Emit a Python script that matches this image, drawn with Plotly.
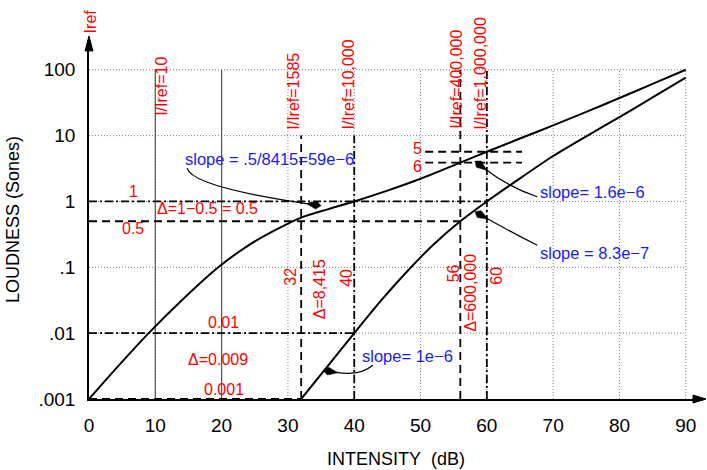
import math
import plotly.graph_objects as go

# ---------------- data ----------------
upper_x = [0, 4.5, 9, 14, 19.5, 24, 28, 32, 36, 40, 45, 50, 56, 60, 65, 70, 75, 80, 85, 90]
upper_L = [0.001, 0.00324, 0.01, 0.0316, 0.1, 0.214, 0.363, 0.569, 0.759, 1.0, 1.46, 2.21, 3.89, 5.69,
           9.02, 14.3, 22.9, 37.2, 61, 100]

lower_x = [32, 36, 40, 44, 48, 52, 56, 60, 65, 70, 75, 80, 85, 90]
lower_L = [0.001, 0.00316, 0.01, 0.0309, 0.0871, 0.224, 0.501, 1.0, 2.24, 4.9, 9.77, 19.1, 38, 75.9]

# horizontal reference levels (sones) and their x extents (dB)
href_L = [1, 0.5, 0.01, 0.001, 5.69, 3.89]
href_x0 = [0, 0, 0, 0, 50.7, 50.7]
href_x1 = [60, 56, 40, 32, 65.3, 65.3]
href_style = ["dashdot", "dash", "dashdot", "dash", "dash", "dash"]

# vertical reference intensities (dB) and top level (sones)
vref_x = [32, 40, 56, 60]
vref_top = [10, 10, 100, 100]
vref_style = ["dash", "dashdot", "dash", "dashdot"]

solid_x = [10, 20]
grid_x = [10, 20, 30, 40, 50, 60, 70, 80, 90]
grid_L = [0.01, 0.1, 1, 10, 100]

xtick_vals = [0, 10, 20, 30, 40, 50, 60, 70, 80, 90]
ytick_vals = [0.001, 0.01, 0.1, 1, 10, 100]
ytick_text = [".001", ".01", ".1", "1", "10", "100"]

# ---------------- geometry helpers ----------------
L_M, R_M, T_M, B_M = 89, 4, 40, 68
W, H = 707, 470
PW, PH = W - L_M - R_M, H - T_M - B_M
XMAX = 92.6
YMIN = -3.0
YMAX = YMIN + PH / 66.4

def to_px(x, L):
    return (L_M + x / XMAX * PW, T_M + PH - (math.log10(L) - YMIN) / (YMAX - YMIN) * PH)

def px_paper(px, py):
    return ((px - L_M) / PW, (T_M + PH - py) / PH)

FONT = "Liberation Sans, Arial, Helvetica, sans-serif"
DASH = "8px,5px"
DASHDOT = "8px,3px,2px,3px"
DOT = "1px,2px"

fig = go.Figure()

# grid (dotted)
gx, gy = [], []
for L in grid_L:
    gx += [0, 90, None]; gy += [L, L, None]
for x in grid_x:
    gx += [x, x, None]; gy += [0.001, 100, None]
fig.add_trace(go.Scatter(x=gx, y=gy, mode="lines", line=dict(color="#808080", width=1, dash=DOT),
                         hoverinfo="skip"))

# solid vertical lines at 10 and 20 dB
sx, sy = [], []
for x in solid_x:
    sx += [x, x, None]; sy += [0.001, 100, None]
fig.add_trace(go.Scatter(x=sx, y=sy, mode="lines", line=dict(color="#555555", width=1.2),
                         hoverinfo="skip"))

# reference dashed lines
for style, pattern in (("dash", DASH), ("dashdot", DASHDOT)):
    rx, ry = [], []
    for L, x0, x1, s in zip(href_L, href_x0, href_x1, href_style):
        if s == style:
            rx += [x0, x1, None]; ry += [L, L, None]
    for x, top, s in zip(vref_x, vref_top, vref_style):
        if s == style:
            rx += [x, x, None]; ry += [0.001, top, None]
    fig.add_trace(go.Scatter(x=rx, y=ry, mode="lines", line=dict(color="black", width=1.8, dash=pattern),
                             hoverinfo="skip"))

# loudness curves
fig.add_trace(go.Scatter(x=upper_x, y=upper_L, mode="lines",
                         line=dict(color="black", width=2, shape="spline", smoothing=0.8)))
fig.add_trace(go.Scatter(x=lower_x, y=lower_L, mode="lines",
                         line=dict(color="black", width=2, shape="spline", smoothing=0.8)))

shapes = []
def poly_paper(pts):
    s = ""
    for i, (px, py) in enumerate(pts):
        a, b = px_paper(px, py)
        s += ("M" if i == 0 else "L") + f"{a:.5f},{b:.5f} "
    return s + "Z"

# axis arrowheads
ytop_x, ytop_y = L_M, T_M - 4
shapes.append(dict(type="path", xref="paper", yref="paper",
                   path=poly_paper([(ytop_x, ytop_y), (ytop_x - 4, ytop_y + 15), (ytop_x + 4, ytop_y + 15)]),
                   fillcolor="black", line=dict(color="black", width=1)))
xr_x, xr_y = W - 1, T_M + PH
shapes.append(dict(type="path", xref="paper", yref="paper",
                   path=poly_paper([(xr_x, xr_y), (xr_x - 13, xr_y - 4), (xr_x - 13, xr_y + 4)]),
                   fillcolor="black", line=dict(color="black", width=1)))

# curved pointer arrows: start, control, tip (in dB / sones)
arrows = [
    ((14.8, 3.2), (15.5, 1.67), (35.0, 0.86)),
    ((67.6, 1.18), (63.2, 1.67), (58.2, 4.1)),
    ((67.6, 0.216), (63.2, 0.363), (58.2, 0.70)),
    ((42.8, 0.00325), (40.9, 0.00222), (35.3, 0.00273)),
]
for S, C, E in arrows:
    sp = to_px(*S); cp = to_px(*C); ep = to_px(*E)
    dx, dy = ep[0] - cp[0], ep[1] - cp[1]
    n = math.hypot(dx, dy); dx, dy = dx / n, dy / n
    nx, ny = -dy, dx
    back = (ep[0] - 13 * dx, ep[1] - 13 * dy)
    a1, b1 = px_paper(*sp); a2, b2 = px_paper(*cp); a3, b3 = px_paper(*back)
    shapes.append(dict(type="path", xref="paper", yref="paper",
                       path=f"M{a1:.5f},{b1:.5f} Q{a2:.5f},{b2:.5f} {a3:.5f},{b3:.5f}",
                       line=dict(color="black", width=1.2)))
    w1 = (ep[0] - 5 * dx + 4 * nx, ep[1] - 5 * dy + 4 * ny)
    w2 = (ep[0] - 5 * dx - 4 * nx, ep[1] - 5 * dy - 4 * ny)
    bk = (ep[0] - 15 * dx, ep[1] - 15 * dy)
    shapes.append(dict(type="path", xref="paper", yref="paper",
                       path=poly_paper([ep, w1, bk, w2]),
                       fillcolor="black", line=dict(color="black", width=0.5)))

annotations = []
def ann(x, L, text, color="red", size=16, angle=0, xanchor="center", yanchor="middle"):
    annotations.append(dict(x=x, y=math.log10(L), xref="x", yref="y", text=text, showarrow=False,
                            textangle=angle, xanchor=xanchor, yanchor=yanchor,
                            font=dict(family=FONT, size=size, color=color)))

RED = "#ff0000"
BLUE = "#1a1aff"
# red value labels
ann(6.7, 1.41, "1", RED)
ann(17.8, 0.78, "Δ=1−0.5 = 0.5", RED)
ann(6.7, 0.39, "0.5", RED)
ann(20.3, 0.0145, "0.01", RED)
ann(19.4, 0.004, "Δ=0.009", RED)
ann(20.3, 0.0014, "0.001", RED)
ann(49.5, 6.3, "5", RED)
ann(49.5, 3.4, "6", RED)
ann(30.4, 0.071, "32", RED, angle=-90)
ann(34.8, 0.046, "Δ=8,415", RED, angle=-90)
ann(38.9, 0.069, "40", RED, angle=-90)
ann(54.9, 0.081, "56", RED, angle=-90)
ann(57.6, 0.041, "Δ=600,000", RED, angle=-90)
ann(61.5, 0.074, "60", RED, angle=-90)
# rotated intensity ratio labels
ann(11.0, 18.9, "I/Iref=10", RED, angle=-90, yanchor="bottom")
ann(30.9, 11.6, "I/Iref=1585", RED, angle=-90, yanchor="bottom")
ann(39.1, 11.6, "I/Iref=10,000", RED, angle=-90, yanchor="bottom")
ann(55.5, 11.6, "I/Iref=400,000", RED, angle=-90, yanchor="bottom")
ann(59.1, 11.6, "I/Iref=1,000,000", RED, angle=-90, yanchor="bottom")
# blue slope labels
ann(27.2, 4.37, "slope = .5/8415=59e−6", BLUE, size=16.5)
ann(75.9, 1.41, "slope= 1.6e−6", BLUE, size=16.5)
ann(76.2, 0.164, "slope = 8.3e−7", BLUE, size=16.5)
ann(48.1, 0.00447, "slope= 1e−6", BLUE, size=16.5)
# Iref label above the y axis
annotations.append(dict(x=0.002, y=px_paper(0, 21)[1], xref="paper", yref="paper", text="Iref",
                        showarrow=False, textangle=-90, xanchor="center", yanchor="middle",
                        font=dict(family=FONT, size=16, color=RED)))

fig.update_layout(
    width=W, height=H,
    margin=dict(l=L_M, r=R_M, t=T_M, b=B_M),
    plot_bgcolor="white", paper_bgcolor="white",
    showlegend=False,
    shapes=shapes, annotations=annotations,
    font=dict(family=FONT, color="black"),
)
fig.update_xaxes(range=[0, XMAX], tickvals=xtick_vals, showgrid=False, zeroline=False,
                 showline=True, linecolor="black", linewidth=1.5, ticks="",
                 tickfont=dict(size=19, family=FONT), ticklabelstandoff=8,
                 title=dict(text="INTENSITY\u00a0 (dB)", font=dict(size=18, family=FONT), standoff=18))
fig.update_yaxes(type="log", range=[YMIN, YMAX], tickvals=ytick_vals, ticktext=ytick_text,
                 showgrid=False, zeroline=False, showline=True, linecolor="black", linewidth=1.5,
                 ticks="", tickfont=dict(size=19, family=FONT), ticklabelstandoff=8,
                 title=dict(text="LOUDNESS (Sones)", font=dict(size=18, family=FONT), standoff=14))

fig.write_html("out.html")
